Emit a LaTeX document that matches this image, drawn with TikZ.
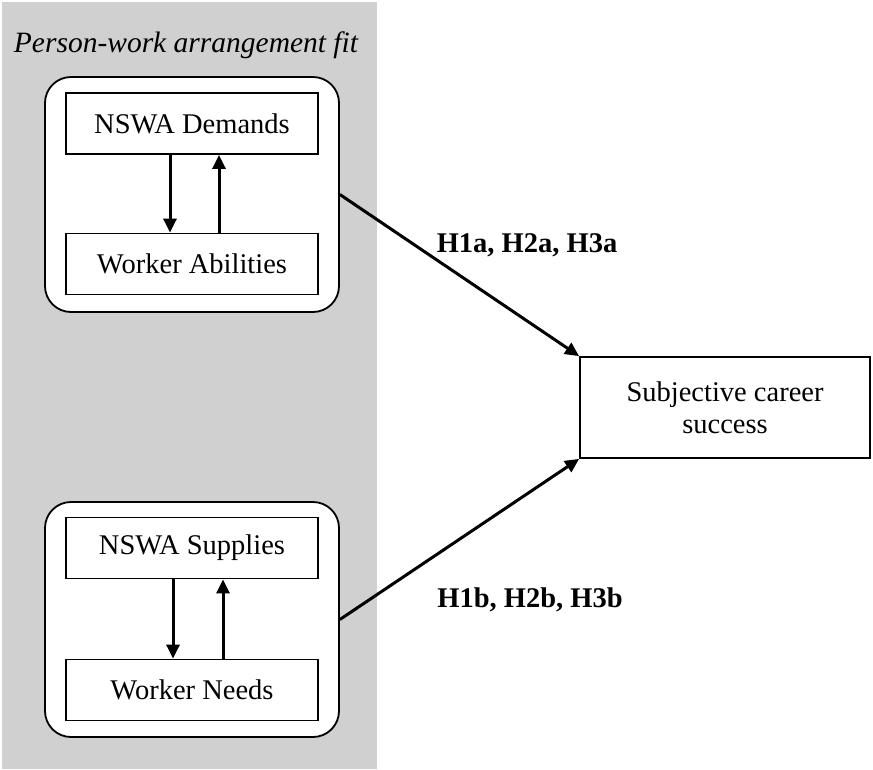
\documentclass[tikz,border=0pt]{standalone}
\usepackage{fontspec}
\setmainfont{Liberation Serif}
\usetikzlibrary{arrows.meta}
\definecolor{panelgray}{RGB}{208,208,208}
\begin{document}
\begin{tikzpicture}[x=1pt,y=-1pt,
  inbox/.style={draw,line width=1.8pt,fill=white,minimum width=252pt,minimum height=61pt,inner sep=0pt,font=\fontsize{28.5}{32}\selectfont},
  roundbox/.style={draw,line width=1.8pt,fill=white,rounded corners=26pt,minimum width=294pt,minimum height=235pt,inner sep=0pt},
  outbox/.style={draw,line width=1.8pt,fill=white,minimum width=290pt,minimum height=101pt,inner sep=0pt,align=center,font=\fontsize{28.5}{32}\selectfont},
  link/.style={line width=3pt,-{Triangle[length=14pt,width=13pt]}},
  hyp/.style={font=\fontsize{28.5}{32}\selectfont\bfseries}]
\useasboundingbox (0,0) rectangle (873,769);
\fill[panelgray] (2,2) rectangle (377,769);
\node[font=\fontsize{29.5}{32}\selectfont\itshape] (title) at (186,45) {Person-work arrangement fit};
% upper group
\node[roundbox] (g1) at (192,194.5) {};
\node[inbox] (dem) at (192,123.5) {NSWA Demands};
\node[inbox] (abi) at (192,264) {Worker Abilities};
\draw[link] (dem.south -| 170,0) -- (abi.north -| 170,0);
\draw[link] (abi.north -| 219,0) -- (dem.south -| 219,0);
% lower group
\node[roundbox] (g2) at (192,619.5) {};
\node[inbox] (sup) at (192,548) {NSWA Supplies};
\node[inbox] (nee) at (192,690) {Worker Needs};
\draw[link] (sup.south -| 173,0) -- (nee.north -| 173,0);
\draw[link] (nee.north -| 223,0) -- (sup.south -| 223,0);
% outcome
\node[outbox] (scs) at (725,407.5) {Subjective career\\success};
\draw[link] (g1.east) -- (scs.north west);
\draw[link] (g2.east) -- (scs.south west);
\node[hyp] (h1) at (527,245) {H1a, H2a, H3a};
\node[hyp] (h2) at (530,600) {H1b, H2b, H3b};
\end{tikzpicture}
\end{document}
